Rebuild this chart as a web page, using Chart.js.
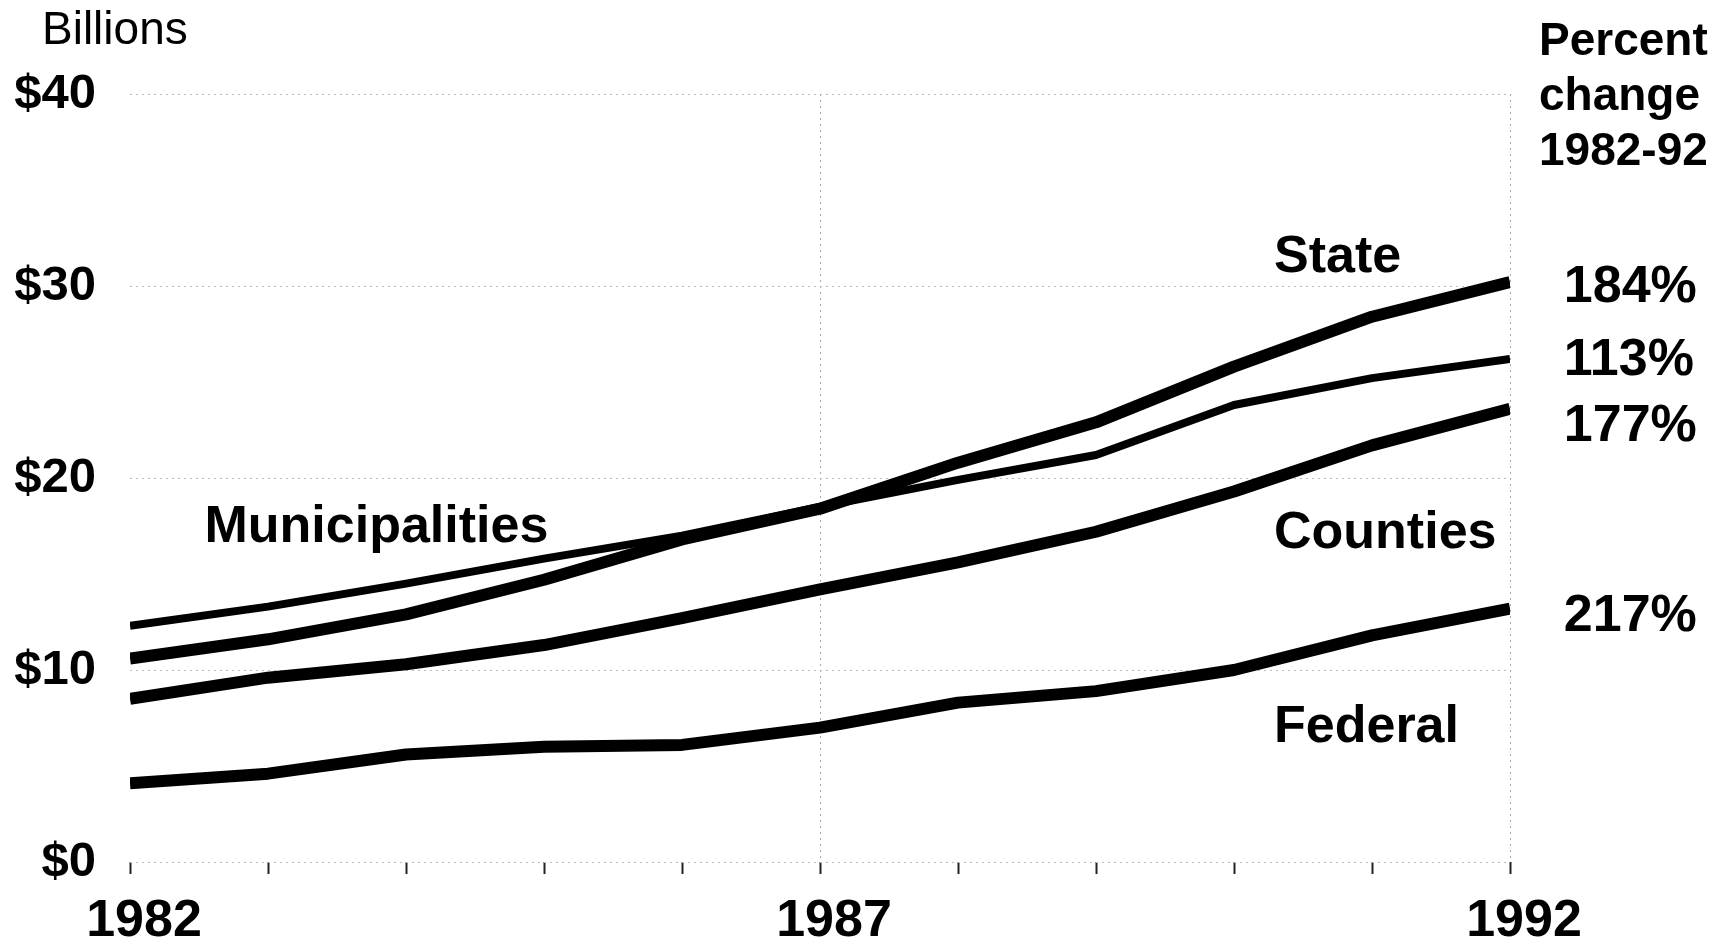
<!DOCTYPE html>
<html>
<head>
<meta charset="utf-8">
<script src="https://cdn.jsdelivr.net/npm/chart.js@4.4.0/dist/chart.umd.min.js"></script>
<style>
  body { margin: 0; background: #fff; }
  #wrap { width: 1726px; height: 945px; }
</style>
</head>
<body>
<div id="wrap"><canvas id="spendingChart"></canvas></div>
<script>
// Data (billions of dollars)
const years = [1982, 1983, 1984, 1985, 1986, 1987, 1988, 1989, 1990, 1991, 1992];
const stateValues = [10.6, 11.6, 12.9, 14.7, 16.8, 18.4, 20.8, 22.9, 25.8, 28.4, 30.2];
const municipalValues = [12.3, 13.3, 14.5, 15.8, 17.0, 18.5, 19.9, 21.2, 23.8, 25.2, 26.2];
const countyValues = [8.5, 9.6, 10.3, 11.3, 12.7, 14.2, 15.6, 17.2, 19.3, 21.7, 23.6];
const federalValues = [4.1, 4.6, 5.6, 6.0, 6.1, 7.0, 8.3, 8.9, 10.0, 11.8, 13.2];
const yTicks = [0, 10, 20, 30, 40];
const labeledYears = [1982, 1987, 1992];
const percentChange = ['184%', '113%', '177%', '217%'];

const FONT = '"Liberation Sans", Arial, Helvetica, sans-serif';

function toPoints(vals) {
  return years.map((yr, i) => ({ x: yr, y: vals[i] }));
}

// text placed in data units so it follows the axes
const seriesLabels = [
  { text: 'State', x: 1990.29, y: 31.5 },
  { text: 'Municipalities', x: 1982.54, y: 17.4 },
  { text: 'Counties', x: 1990.29, y: 17.1 },
  { text: 'Federal', x: 1990.29, y: 7.0 }
];
const percentLabels = [
  { x: 1992.39, y: 29.9 },
  { x: 1992.39, y: 26.1 },
  { x: 1992.39, y: 22.7 },
  { x: 1992.39, y: 12.8 }
];

const textPlugin = {
  id: 'chartText',
  afterDraw(chart) {
    const ctx = chart.ctx;
    const xs = chart.scales.x;
    const ys = chart.scales.y;
    ctx.save();
    ctx.fillStyle = '#000';
    ctx.textBaseline = 'middle';
    ctx.textAlign = 'left';

    ctx.font = '46px ' + FONT;
    ctx.fillText('Billions', 42, 31);

    ctx.font = 'bold 46px ' + FONT;
    const hx = xs.getPixelForValue(1992.21);
    ['Percent', 'change', '1982-92'].forEach((line, i) => {
      ctx.fillText(line, hx, 42 + i * 55);
    });

    ctx.font = 'bold 52px ' + FONT;
    seriesLabels.forEach(l => {
      ctx.fillText(l.text, xs.getPixelForValue(l.x), ys.getPixelForValue(l.y));
    });

    ctx.font = 'bold 52px ' + FONT;
    percentLabels.forEach((l, i) => {
      ctx.fillText(percentChange[i], xs.getPixelForValue(l.x), ys.getPixelForValue(l.y));
    });
    ctx.restore();
  }
};

function lineSet(label, vals, width) {
  return {
    label: label,
    data: toPoints(vals),
    borderColor: '#000',
    borderWidth: width,
    pointRadius: 0,
    tension: 0,
    borderJoinStyle: 'round',
    fill: false
  };
}

new Chart(document.getElementById('spendingChart'), {
  type: 'line',
  data: {
    datasets: [
      lineSet('Municipalities', municipalValues, 8),
      lineSet('State', stateValues, 12),
      lineSet('Counties', countyValues, 12),
      lineSet('Federal', federalValues, 12)
    ]
  },
  options: {
    responsive: true,
    maintainAspectRatio: false,
    animation: false,
    layout: { padding: { top: 94, right: 216, left: 0, bottom: 0 } },
    plugins: { legend: { display: false }, tooltip: { enabled: false } },
    scales: {
      x: {
        type: 'linear',
        min: 1982,
        max: 1992,
        afterBuildTicks: axis => { axis.ticks = years.map(v => ({ value: v })); },
        afterFit: axis => { axis.height = 83; },
        border: { display: false, dash: [2, 4] },
        grid: {
          color: ctx => (ctx.tick && (ctx.tick.value === 1987 || ctx.tick.value === 1992)) ? '#a8a8a8' : 'rgba(0,0,0,0)',
          lineWidth: 1,
          tickColor: '#222',
          tickLength: 12,
          tickWidth: 2
        },
        ticks: {
          autoSkip: false,
          maxRotation: 0,
          padding: 16,
          labelOffset: 14,
          color: '#000',
          font: { family: FONT, size: 52, weight: 'bold' },
          callback: v => labeledYears.includes(v) ? String(v) : ''
        }
      },
      y: {
        min: 0,
        max: 40,
        afterBuildTicks: axis => { axis.ticks = yTicks.map(v => ({ value: v })); },
        afterFit: axis => { axis.width = 130; },
        border: { display: false, dash: [2, 4] },
        grid: {
          color: '#bdbdbd',
          lineWidth: 1,
          drawTicks: false
        },
        ticks: {
          padding: 34,
          color: '#000',
          font: { family: FONT, size: 49, weight: 'bold' },
          callback: v => '$' + v
        }
      }
    }
  },
  plugins: [textPlugin]
});
</script>
</body>
</html>
